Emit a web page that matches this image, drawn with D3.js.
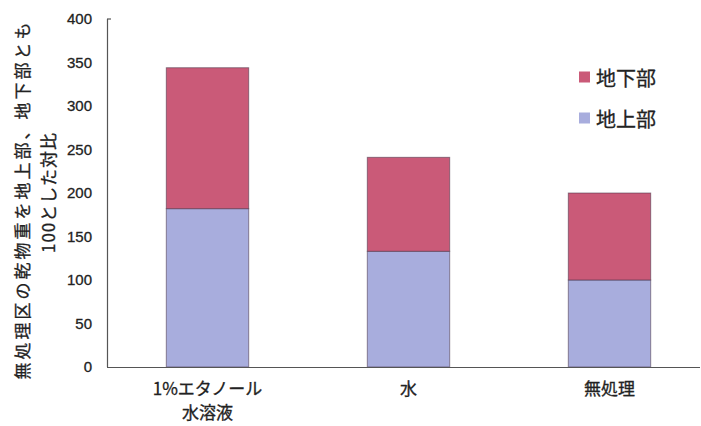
<!DOCTYPE html>
<html>
<head>
<meta charset="utf-8">
<script src="https://cdn.jsdelivr.net/npm/d3@7"></script>
<style>
  html, body { margin: 0; padding: 0; background: #fff; }
  svg { display: block; }
  text { fill: #222; stroke: #222; stroke-width: 0.3px; }
</style>
</head>
<body>
<div id="chart"></div>
<script>
// Dry-matter ratios relative to the untreated plot (=100 for both parts)
const categories = ["1%エタノール水溶液", "水", "無処理"];
const categoryLines = [["1%エタノール", "水溶液"], ["水"], ["無処理"]];
const aboveGround = [182, 133, 100];   // 地上部
const belowGround = [162, 108, 100];   // 地下部
const seriesNames = ["地上部", "地下部"];
const seriesColors = ["#a8addd", "#ca5a78"];
const yTicks = [0, 50, 100, 150, 200, 250, 300, 350, 400];
const yTitleLines = ["無処理区の乾物重を地上部、地下部とも", "100とした対比"];

const W = 701, H = 426;
const svg = d3.select("#chart").append("svg")
  .attr("width", W).attr("height", H);

const x = d3.scaleBand()
  .domain(categories)
  .range([107, 710])
  .paddingInner(0.59)
  .paddingOuter(0.295);

const y = d3.scaleLinear().domain([0, 400]).range([367, 19]);

// stacked data: above-ground at the bottom, below-ground on top
const rows = categories.map((c, i) => ({ cat: c, above: aboveGround[i], below: belowGround[i] }));
const stack = d3.stack().keys(["above", "below"]);
const layers = stack(rows);

const jp = "'Noto Sans CJK JP', 'Noto Sans', sans-serif";
const latin = "'Liberation Sans', Arial, sans-serif";

svg.append("g").selectAll("g")
  .data(layers)
  .join("g")
  .attr("fill", (d, i) => seriesColors[i])
  .selectAll("rect")
  .data(d => d)
  .join("rect")
  .attr("x", d => x(d.data.cat))
  .attr("width", x.bandwidth())
  .attr("y", d => y(d[1]))
  .attr("height", d => y(d[0]) - y(d[1]))
  .attr("stroke", "rgba(70,50,70,0.55)")
  .attr("stroke-width", 1);

// axes lines
svg.append("line")
  .attr("x1", 107.5).attr("x2", 107.5)
  .attr("y1", y(400)).attr("y2", y(0))
  .attr("stroke", "#555").attr("stroke-width", 1.2);
svg.append("line")
  .attr("x1", 107).attr("x2", 700)
  .attr("y1", y(0) + 0.5).attr("y2", y(0) + 0.5)
  .attr("stroke", "#555").attr("stroke-width", 1.2);
svg.append("line")
  .attr("x1", 107).attr("x2", 111)
  .attr("y1", y(400)).attr("y2", y(400))
  .attr("stroke", "#555").attr("stroke-width", 1.2);

// y tick labels
const yAxis = d3.axisLeft(y).tickValues(yTicks).tickSize(0).tickPadding(15);
const gy = svg.append("g").attr("transform", "translate(107,0)").call(yAxis);
gy.select(".domain").remove();
gy.selectAll("text")
  .attr("font-family", latin)
  .attr("font-size", 15)
  .attr("fill", "#222");

// x category labels
categories.forEach((c, i) => {
  const cx = x(c) + x.bandwidth() / 2;
  categoryLines[i].forEach((line, j) => {
    svg.append("text")
      .attr("x", cx)
      .attr("y", 395 + j * 24)
      .attr("text-anchor", "middle")
      .attr("font-family", jp)
      .attr("font-size", 17)
      .text(line);
  });
});

// y axis title, two rotated lines
const titleSpec = [
  { cx: 21, cy: 201, len: 357 },
  { cx: 47, cy: 193, len: 120 }
];
yTitleLines.forEach((t, i) => {
  const s = titleSpec[i];
  svg.append("text")
    .attr("transform", `translate(${s.cx},${s.cy}) rotate(-90)`)
    .attr("text-anchor", "middle")
    .attr("dominant-baseline", "central")
    .attr("font-family", jp)
    .attr("font-size", 17)
    .attr("textLength", s.len)
    .attr("lengthAdjust", "spacing")
    .text(t);
});

// legend: 地下部 above 地上部
const legendOrder = [1, 0];
legendOrder.forEach((si, k) => {
  const ly = 77 + k * 41;
  svg.append("rect")
    .attr("x", 579).attr("y", ly - 5.5)
    .attr("width", 11).attr("height", 11)
    .attr("fill", seriesColors[si]);
  svg.append("text")
    .attr("x", 596).attr("y", ly)
    .attr("dominant-baseline", "central")
    .attr("font-family", jp)
    .attr("font-size", 20)
    .text(seriesNames[si]);
});
</script>
</body>
</html>
